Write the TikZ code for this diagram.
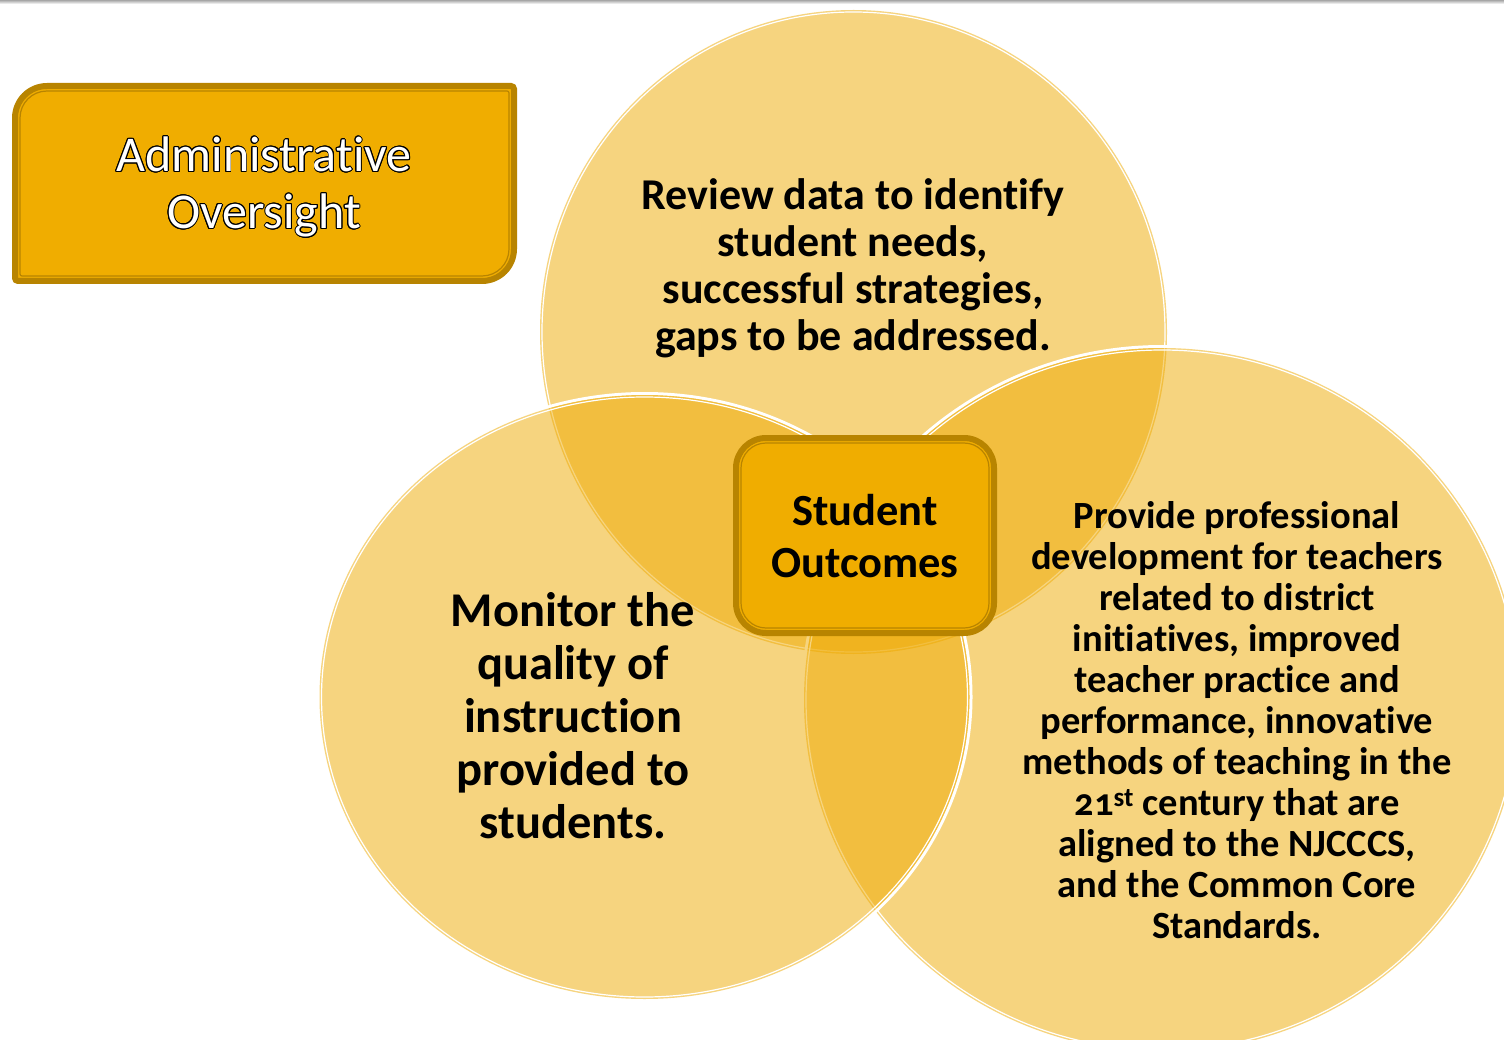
\documentclass[tikz,border=0pt]{standalone}
\usepackage{fontspec}
\setmainfont[Ligatures=NoCommon, Numbers=OldStyle]{Carlito}
\definecolor{gold}{RGB}{239,170,0}
\definecolor{boxfill}{RGB}{240,173,0}
\definecolor{boxdark}{RGB}{184,132,0}
\begin{document}
\begin{tikzpicture}[x=1pt,y=-1pt,
  circfill/.style={fill=gold, fill opacity=0.5},
  glow/.style={draw=white, line width=3pt},
  innerline/.style={draw=white, line width=1.2pt},
  bodytext/.style={align=center, text=black, inner sep=0pt},
  boxouter/.style={draw=boxdark, line width=6pt, fill=boxfill},
  boxinner/.style={draw=boxdark, line width=1.2pt},
  admintext/.style={align=center, inner sep=0pt, font=\fontsize{50}{57}\selectfont},
]
\useasboundingbox (0,0) rectangle (1504,1040);
\fill[white] (0,0) rectangle (1504,1040);
\shade[top color=gray!70, bottom color=white] (0,0) rectangle (1504,4);

% top circle
\draw[glow] (853.5,332) ellipse [x radius=315, y radius=323.5];
\fill[circfill] (853.5,332) ellipse [x radius=313.5, y radius=322];
\draw[innerline] (853.5,332) ellipse [x radius=311.5, y radius=320];

% right circle
\draw[glow] (1162,700) ellipse [x radius=359.5, y radius=353.5];
\fill[circfill] (1162,700) ellipse [x radius=358, y radius=352];
\draw[innerline] (1162,700) ellipse [x radius=356, y radius=350];

% left circle
\draw[glow] (644.5,697) ellipse [x radius=326.5, y radius=303.5];
\fill[circfill] (644.5,697) ellipse [x radius=325, y radius=302];
\draw[innerline] (644.5,697) ellipse [x radius=323, y radius=300];

% circle texts
\node[bodytext, font=\bfseries\fontsize{44}{47}\selectfont] (review) at (853,268)
  {Review data to identify\\student needs,\\successful strategies,\\gaps to be addressed.};
\node[bodytext, font=\bfseries\fontsize{48.5}{53}\selectfont] (monitor) at (573,716)
  {Monitor the\\quality of\\instruction\\provided to\\students.};
\node[bodytext, font=\bfseries\fontsize{38.5}{41}\selectfont] (provide) at (1237,720)
  {Provide professional\\development for teachers\\related to district\\initiatives, improved\\teacher practice and\\performance, innovative\\methods of teaching in the\\21\textsuperscript{st} century that are\\aligned to the NJCCCS,\\and the Common Core\\Standards.};

% Administrative Oversight box
\draw[boxouter] (15,200) [rounded corners=32] -- (15,86) -- (200,86) [rounded corners=3] -- (514,86) -- (514,150) [rounded corners=32] -- (514,281) -- (300,281) [rounded corners=3] -- (15,281) -- cycle;
\draw[boxinner] (20,200) [rounded corners=27] -- (20,91) -- (200,91) [rounded corners=2] -- (509,91) -- (509,150) [rounded corners=27] -- (509,276) -- (300,276) [rounded corners=2] -- (20,276) -- cycle;
\foreach \a in {0,22.5,...,337.5}
  \node[admintext, text=black] (ao\a) at ([shift={(\a:0.9)}]264,187) {Administrative\\Oversight};
\node[admintext, text=white] (admin) at (264,187) {Administrative\\Oversight};

% Student Outcomes box
\draw[boxouter, rounded corners=30] (736,438) rectangle (994,633);
\draw[boxinner, rounded corners=25] (741,443) rectangle (989,628);
\node[bodytext, font=\bfseries\fontsize{44.5}{52}\selectfont] (outcomes) at (865,536) {Student\\Outcomes};
\end{tikzpicture}
\end{document}
